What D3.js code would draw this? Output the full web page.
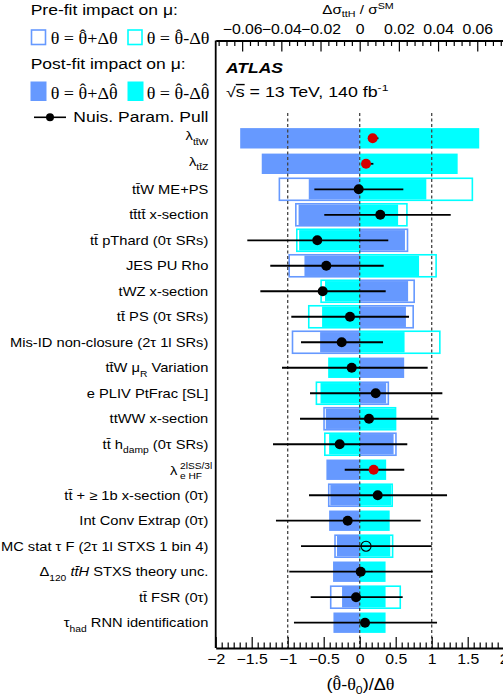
<!DOCTYPE html>
<html>
<head>
<meta charset="utf-8">
<script src="https://cdn.jsdelivr.net/npm/d3@7"></script>
<style>
  body { margin: 0; background: #fff; }
  svg { display: block; font-family: "Liberation Sans", Arial, sans-serif; }
</style>
</head>
<body>
<div id="chart"></div>
<script>
// Nuisance parameters, top to bottom (markup: _{sub} ^{sup} #it{italic})
var params = [
  'λ_{tt\u0304W}',
  'λ_{tt\u0304Z}',
  'tt\u0304W ME+PS',
  'tt\u0304tt\u0304 x-section',
  'tt\u0304 pThard (0τ SRs)',
  'JES PU Rho',
  'tWZ x-section',
  'tt\u0304 PS (0τ SRs)',
  'Mis-ID non-closure (2τ 1l SRs)',
  'tt\u0304W μ_{R} Variation',
  'e PLIV PtFrac [SL]',
  'ttWW x-section',
  'tt\u0304 h_{damp} (0τ SRs)',
  'λ^{2lSS/3l}_{e HF}',
  'tt\u0304 + ≥ 1b x-section (0τ)',
  'Int Conv Extrap (0τ)',
  'MC stat τ F (2τ 1l STXS 1 bin 4)',
  'Δ_{120} #it{tt\u0304H} STXS theory unc.',
  'tt\u0304 FSR (0τ)',
  'τ_{had} RNN identification'
];

// impact on mu (Δσ_ttH / σ_SM), theta = theta_hat +/- delta
var postUp   = [-0.061, -0.050, -0.026, -0.0312, 0.0231, -0.0282, 0.0247, 0.0236, -0.0202, 0.0227,
                0.0135, -0.0173, 0.0173, -0.017, -0.015, -0.0156, -0.0116, -0.0136, -0.009, -0.0134];
var postDown = [0.061, 0.050, 0.034, 0.0196, -0.0309, 0.0303, -0.0177, -0.0192, 0.0229, -0.0161,
                -0.020, 0.0181, -0.0156, 0.0135, 0.0161, 0.0153, 0.0156, 0.0132, 0.0132, 0.0132];
var preUp    = [null, null, -0.041, -0.0326, 0.0244, -0.036, 0.0278, 0.0273, -0.0343, null,
                0.0146, -0.0182, 0.0185, null, -0.0158, null, -0.0126, null, -0.0148, null];
var preDown  = [null, null, 0.0575, 0.0241, -0.0321, 0.039, -0.0197, -0.026, 0.0409, null,
                -0.0221, 0.0183, -0.0178, null, 0.0166, null, 0.0168, null, 0.0207, null];

// pulls (theta_hat - theta_0)/delta_theta and their error bar ends
var pull    = [0.18, 0.088, -0.014, 0.286, -0.589, -0.464, -0.514, -0.135, -0.25, -0.111,
               0.222, 0.129, -0.278, 0.194, 0.25, -0.167, 0.088, 0.014, -0.051, 0.074];
var pullLo  = [0.14, 0.06, -0.63, -0.492, -1.561, -1.242, -1.38, -0.95, -0.815, -1.079,
               -0.69, -0.829, -1.204, -0.208, -0.704, -1.163, -0.815, -0.978, -0.681, -0.913];
var pullHi  = [0.26, 0.19, 0.606, 1.264, 0.397, 0.333, 0.361, 0.685, 0.324, 0.944,
               1.148, 1.097, 0.661, 0.619, 1.213, 0.847, 1.0, 1.014, 0.597, 1.074];
// n = nuisance parameter, r = normalisation factor, g = MC stat gamma
var pullType = ['r', 'r', 'n', 'n', 'n', 'n', 'n', 'n', 'n', 'n',
                'n', 'n', 'n', 'r', 'n', 'n', 'g', 'n', 'n', 'n'];

var pullTicks = [-2, -1.5, -1, -0.5, 0, 0.5, 1, 1.5, 2];
var impactTicks = [-0.06, -0.04, -0.02, 0, 0.02, 0.04, 0.06];

var blue = '#6699ff', cyan = '#00ffff', red = '#d40000';
var sx = 1.13; // the reference text is a little wide
var serif = '"Liberation Serif", "Times New Roman", serif';

var W = 503, H = 699;
var plotL = 215.7, plotR = 503.7, plotT = 40.5, plotB = 648;
var rowH = 22;

var svg = d3.select('#chart').append('svg')
    .attr('width', W)
    .attr('height', H);
svg.append('rect').attr('width', W).attr('height', H).attr('fill', '#fff');

var xPull = d3.scaleLinear().domain([-2, 2]).range([plotL, plotR]);
var xImp = d3.scaleLinear().domain([-0.0735, 0.0735]).range([plotL, plotR]);
var y = d3.scalePoint().domain(params).range([138.3, 622.7]);

// write markup into a text element
function rich(sel, str, size) {
  var parts = str.split(/(_\{[^}]*\}|\^\{[^}]*\}|#it\{[^}]*\})/).filter(function(s) { return s.length; });
  var cur = 0;
  parts.forEach(function(p) {
    var t = sel.append('tspan');
    if (p[0] === '_') {
      t.text(p.slice(2, -1)).attr('font-size', size * 0.7).attr('dy', 4.5 - cur);
      cur = 4.5;
    } else if (p[0] === '^') {
      t.text(p.slice(2, -1)).attr('font-size', size * 0.7).attr('dy', -5 - cur);
      cur = -5;
    } else if (p[0] === '#') {
      t.text(p.slice(4, -1)).attr('font-style', 'italic').attr('dy', -cur);
      cur = 0;
    } else {
      t.text(p).attr('dy', -cur);
      cur = 0;
    }
  });
}

// pieces: strings, or {s, serif, hat, sub}
function pieces(sel, list) {
  var pend = null;
  list.forEach(function(p) {
    if (typeof p === 'string') p = { s: p };
    var t = sel.append('tspan').text(p.s);
    if (p.serif || p.hat) t.attr('font-family', serif);
    if (p.sub) t.attr('font-size', '0.68em');
    var dx = 0, dy = 0;
    if (pend) { dx += pend.dx; dy += pend.dy; pend = null; }
    if (p.sub) { dy += 4; pend = { dx: 0, dy: -4 }; }
    if (dx) t.attr('dx', dx + 'em');
    if (dy) t.attr('dy', dy);
    if (p.hat) {
      sel.append('tspan').attr('font-family', serif)
          .attr('dx', '-0.42em').attr('dy', -3.2).text('ˆ');
      pend = { dx: 0.085, dy: 3.2 };
    }
  });
}

// pre-fit boxes (hollow, white inside)
var preBars = [], postBars = [];
params.forEach(function(p, i) {
  if (preUp[i] !== null) {
    preBars.push({ p: p, v: preUp[i], c: blue });
    preBars.push({ p: p, v: preDown[i], c: cyan });
  }
  postBars.push({ p: p, v: postUp[i], c: blue });
  postBars.push({ p: p, v: postDown[i], c: cyan });
});

svg.append('g').selectAll('rect')
    .data(preBars)
    .enter()
  .append('rect')
    .attr('x', function(d) { return Math.min(xImp(0), xImp(d.v)); })
    .attr('y', function(d) { return y(d.p) - rowH / 2; })
    .attr('width', function(d) { return Math.abs(xImp(d.v) - xImp(0)); })
    .attr('height', rowH)
    .attr('fill', '#fff')
    .attr('stroke', function(d) { return d.c; })
    .attr('stroke-width', 1.6);

svg.append('g').selectAll('rect')
    .data(postBars)
    .enter()
  .append('rect')
    .attr('x', function(d) { return Math.min(xImp(0), xImp(d.v)); })
    .attr('y', function(d) { return y(d.p) - rowH / 2 + 0.8; })
    .attr('width', function(d) { return Math.abs(xImp(d.v) - xImp(0)); })
    .attr('height', rowH - 1.6)
    .attr('fill', function(d) { return d.c; });

// dashed guide lines at -1, 0, 1
svg.append('g').selectAll('line')
    .data([-1, 0, 1])
    .enter()
  .append('line')
    .attr('x1', function(d) { return xPull(d); })
    .attr('x2', function(d) { return xPull(d); })
    .attr('y1', 113)
    .attr('y2', plotB)
    .attr('stroke', '#444')
    .attr('stroke-width', 1.3)
    .attr('stroke-dasharray', '3,2.5');

// pulls
var rows = params.map(function(p, i) {
  return { p: p, v: pull[i], lo: pullLo[i], hi: pullHi[i], t: pullType[i] };
});
svg.append('g').selectAll('line')
    .data(rows)
    .enter()
  .append('line')
    .attr('x1', function(d) { return xPull(d.lo); })
    .attr('x2', function(d) { return xPull(d.hi); })
    .attr('y1', function(d) { return y(d.p); })
    .attr('y2', function(d) { return y(d.p); })
    .attr('stroke', '#000')
    .attr('stroke-width', 1.8);
svg.append('g').selectAll('circle')
    .data(rows)
    .enter()
  .append('circle')
    .attr('cx', function(d) { return xPull(d.v); })
    .attr('cy', function(d) { return y(d.p); })
    .attr('r', 5)
    .attr('fill', function(d) { return d.t === 'r' ? red : d.t === 'g' ? 'none' : '#000'; })
    .attr('stroke', function(d) { return d.t === 'g' ? '#000' : 'none'; })
    .attr('stroke-width', 1.1);

// parameter names
var labels = svg.append('g').selectAll('g')
    .data(params)
    .enter()
  .append('g')
    .attr('transform', function(d) {
      var dy = d[0] === 'λ' ? 2 : 4.5;
      return 'translate(208.3,' + (y(d) + dy) + ') scale(' + sx + ',1)';
    });
labels.each(function(d) {
  var g = d3.select(this);
  if (d.indexOf('^{') >= 0) {
    // stacked super/subscript
    var t = g.append('text').attr('font-size', 13).attr('transform', 'translate(0,3)');
    t.append('tspan').attr('x', -34).text('λ');
    t.append('tspan').attr('x', -25).attr('dy', -6).attr('font-size', 9).text('2lSS/3l');
    t.append('tspan').attr('x', -25).attr('dy', 10.5).attr('font-size', 9).text('e HF');
  } else {
    var t2 = g.append('text').attr('font-size', 13).attr('text-anchor', 'end');
    rich(t2, d, 13);
  }
});

// axes
var bottomAxis = d3.axisBottom(xPull).tickValues(pullTicks).tickSize(-11).tickSizeOuter(0)
    .tickPadding(6).tickFormat(d3.format('~g'));
var bottomMinor = d3.axisBottom(xPull).tickSize(-5.5).tickFormat('')
    .tickValues(d3.range(-2, 2.0001, 0.5 / 6).filter(function(v) { return Math.abs(v * 2 - Math.round(v * 2)) > 0.01; }));
var gB = svg.append('g').attr('transform', 'translate(0,' + plotB + ')');
gB.append('g').call(bottomMinor).call(function(g) { g.select('.domain').remove(); });
gB.append('g').call(bottomAxis);

var topAxis = d3.axisTop(xImp).tickValues(impactTicks).tickSize(-11).tickSizeOuter(0)
    .tickPadding(7).tickFormat(d3.format('~g'));
var topMinor = d3.axisTop(xImp).tickSize(-5.5).tickFormat('')
    .tickValues(d3.range(-0.072, 0.0721, 0.004).filter(function(v) { return Math.abs(v * 50 - Math.round(v * 50)) > 0.01; }));
var gT = svg.append('g').attr('transform', 'translate(0,' + plotT + ')');
gT.append('g').call(topMinor).call(function(g) { g.select('.domain').remove(); });
gT.append('g').call(topAxis);

svg.selectAll('.tick line').attr('stroke', '#000').attr('stroke-width', 1.2);
svg.selectAll('.domain').attr('stroke', '#000').attr('stroke-width', 1.8);
svg.selectAll('.tick text')
    .attr('font-family', '"Liberation Sans", Arial, sans-serif')
    .attr('font-size', 14)
    .attr('fill', '#000')
    .attr('transform', 'scale(' + sx + ',1)');

// left frame line
svg.append('line')
    .attr('x1', plotL).attr('x2', plotL)
    .attr('y1', plotT).attr('y2', plotB)
    .attr('stroke', '#000').attr('stroke-width', 1.8);

// axis titles
var tTop = svg.append('text')
    .attr('transform', 'translate(358,13.5) scale(' + sx + ',1)')
    .attr('text-anchor', 'middle')
    .attr('font-size', 13.5);
tTop.append('tspan').text('Δσ');
tTop.append('tspan').attr('font-size', 9.5).attr('dy', 3.5).text('ttH');
tTop.append('tspan').attr('dy', -3.5).text(' / σ');
tTop.append('tspan').attr('font-size', 9.5).attr('dy', -5).text('SM');

var tBot = svg.append('text')
    .attr('transform', 'translate(360.5,690) scale(' + sx + ',1)')
    .attr('text-anchor', 'middle')
    .attr('font-size', 16);
pieces(tBot, ['(', { s: 'θ', hat: true }, '-', { s: 'θ', serif: true }, { s: '0', sub: true },
              ')/Δ', { s: 'θ', serif: true }]);

// ATLAS label
svg.append('text')
    .attr('transform', 'translate(226,73) scale(' + sx + ',1)')
    .attr('font-size', 15.5)
    .attr('font-weight', 'bold')
    .attr('font-style', 'italic')
    .text('ATLAS');
var tLum = svg.append('text')
    .attr('transform', 'translate(226,97) scale(1.27,1)')
    .attr('font-size', 14);
tLum.append('tspan').text('√');
tLum.append('tspan').attr('text-decoration', 'overline').text('s');
tLum.append('tspan').text(' = 13 TeV, 140 fb');
tLum.append('tspan').attr('font-size', 9.5).attr('dy', -6).text('-1');

// legend
var leg = svg.append('g');
function legText(x, yy, size) {
  return leg.append('text')
      .attr('transform', 'translate(' + x + ',' + yy + ') scale(' + sx + ',1)')
      .attr('font-size', size);
}
legText(30.7, 15, 15.5).text('Pre-fit impact on μ:');
legText(30.7, 68.5, 15.5).text('Post-fit impact on μ:');
legText(73.3, 121.7, 15.5).text('Nuis. Param. Pull');

leg.append('rect').attr('x', 31.5).attr('y', 30).attr('width', 14).attr('height', 14.5)
    .attr('fill', '#fff').attr('stroke', blue).attr('stroke-width', 1.6);
leg.append('rect').attr('x', 128).attr('y', 30).attr('width', 14).attr('height', 14.5)
    .attr('fill', '#fff').attr('stroke', cyan).attr('stroke-width', 1.6);
pieces(legText(50.7, 44, 16).attr('font-family', serif),
    ['θ = ', { s: 'θ', hat: true }, '+Δθ']);
pieces(legText(146.7, 44, 16).attr('font-family', serif),
    ['θ = ', { s: 'θ', hat: true }, '-Δθ']);

leg.append('rect').attr('x', 30.5).attr('y', 81.5).attr('width', 16).attr('height', 19.5).attr('fill', blue);
leg.append('rect').attr('x', 127.5).attr('y', 81.5).attr('width', 16).attr('height', 19.5).attr('fill', cyan);
pieces(legText(50.7, 98.5, 16).attr('font-family', serif),
    ['θ = ', { s: 'θ', hat: true }, '+Δ', { s: 'θ', hat: true }]);
pieces(legText(146.7, 98.5, 16).attr('font-family', serif),
    ['θ = ', { s: 'θ', hat: true }, '-Δ', { s: 'θ', hat: true }]);

leg.append('line').attr('x1', 34).attr('x2', 66).attr('y1', 117.3).attr('y2', 117.3)
    .attr('stroke', '#000').attr('stroke-width', 1.6);
leg.append('circle').attr('cx', 50).attr('cy', 117.3).attr('r', 4).attr('fill', '#000');
</script>
</body>
</html>
